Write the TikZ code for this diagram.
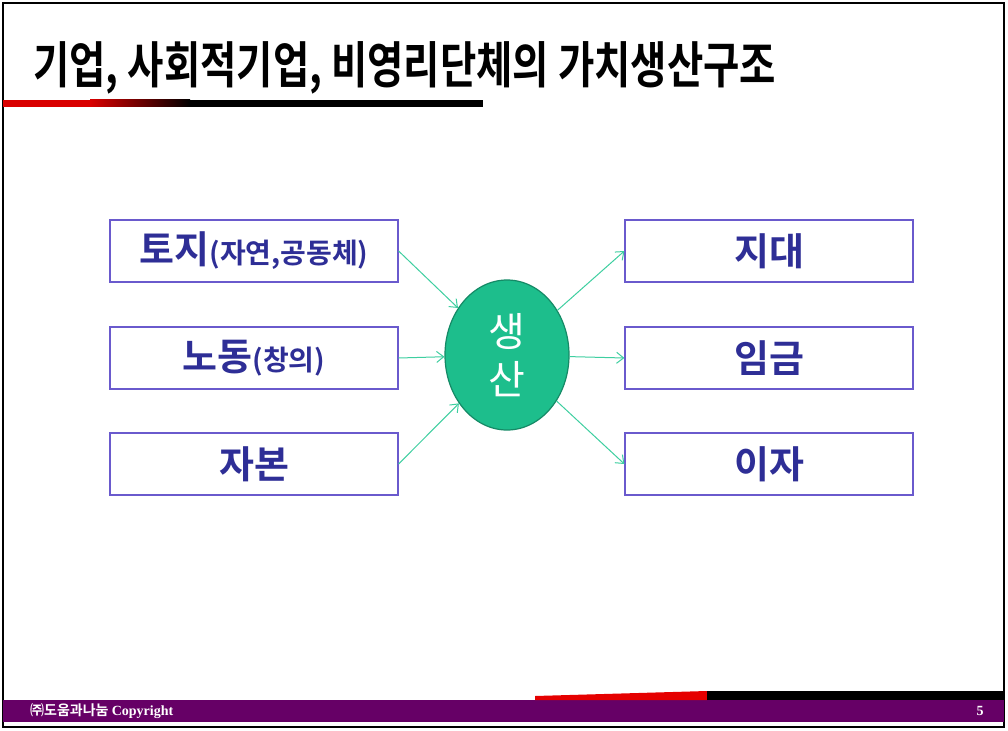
\documentclass[tikz,border=0pt]{standalone}
\usepackage{fontspec}
\setmainfont{Noto Sans CJK KR}
\newfontfamily\krb{Noto Sans CJK KR Bold}
\newfontfamily\kr{Noto Sans CJK KR}
\newfontfamily\serifb{Liberation Serif}
\usetikzlibrary{arrows.meta,shapes.geometric}
\definecolor{boxline}{HTML}{6A5ACD}
\definecolor{boxtext}{HTML}{2E2E96}
\definecolor{arrowc}{HTML}{3ECFA0}
\definecolor{ellfill}{HTML}{1DBE8C}
\definecolor{elldraw}{HTML}{158A66}
\definecolor{footp}{HTML}{660066}
\begin{document}
\begin{tikzpicture}[x=1pt,y=-1pt,
  fbox/.style={draw=boxline,line width=1.2pt,minimum width=288pt,minimum height=62pt,inner sep=0pt,text=boxtext,font=\krb\fontsize{38}{40}\selectfont},
  conn/.style={draw=arrowc,line width=1pt,-{Straight Barb[length=7pt,width=11pt]}}]
\useasboundingbox (0,0) rectangle (1008,730);
\fill[white] (0,0) rectangle (1008,730);
% frame
\draw[black,line width=2pt] (3,3) -- (1004,3) -- (1004,727) -- (3,727) -- cycle;
% title
\node[anchor=west,inner sep=0pt] (title) at (33,68) {\scalebox{0.79}[1]{\krb\fontsize{50}{52}\selectfont 기업, 사회적기업, 비영리단체의 가치생산구조}};
% underline bar
\fill[red!85!black] (3,100) rectangle (90,107);
\shade[left color=red!85!black,right color=black] (90,100) rectangle (190,107);
\fill[black] (190,100) rectangle (483,107);
% boxes
\node[fbox] (l1) at (254,251) {토지{\fontsize{28}{30}\selectfont(자연,공동체)}};
\node[fbox] (l2) at (254,358) {노동{\fontsize{28}{30}\selectfont(창의)}};
\node[fbox] (l3) at (254,464) {자본};
\node[fbox] (r1) at (769,251) {지대};
\node[fbox] (r2) at (769,358) {임금};
\node[fbox] (r3) at (769,464) {이자};
% ellipse
\node[ellipse,fill=ellfill,draw=elldraw,line width=1.2pt,minimum width=124pt,minimum height=150pt,inner sep=0pt,text=white,font=\kr\fontsize{40}{48}\selectfont,align=center] (prod) at (507,355) {생\\산};
% connectors
\draw[conn] (l1.east) -- (prod);
\draw[conn] (l2.east) -- (prod);
\draw[conn] (l3.east) -- (prod);
\draw[conn] (prod) -- (r1.west);
\draw[conn] (prod) -- (r2.west);
\draw[conn] (prod) -- (r3.west);
% footer
\fill[footp] (3,700) rectangle (1004,722);
\fill[red!90!black] (535,700) -- (535,696) -- (707,691) -- (707,700) -- cycle;
\fill[black] (707,691) rectangle (1004,700);
\node[anchor=west,inner sep=0pt,text=white] (foot) at (30,711) {\krb\fontsize{14}{16}\selectfont ㈜도움과나눔 {\serifb\bfseries Copyright}};
\node[anchor=center,inner sep=0pt,text=white] (pg) at (980,711) {\serifb\bfseries\fontsize{14}{16}\selectfont 5};
\end{tikzpicture}
\end{document}
